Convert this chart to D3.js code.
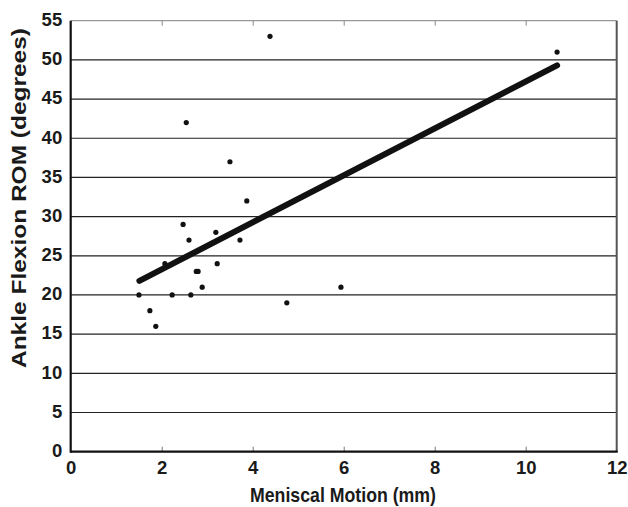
<!DOCTYPE html>
<html>
  <head>
    <title>Meniscal Motion vs Ankle Flexion ROM</title>
    <style>
      body {
        margin: 0;
        padding: 0;
        overflow: hidden;
        background: #fff;
      }
      svg {
        display: block;
      }
      text {
        font-family: "Liberation Sans", Arial, Helvetica, sans-serif;
        font-weight: bold;
        fill: #1a1a1a;
      }
    </style>
    <script src="https://cdn.jsdelivr.net/npm/d3@7/dist/d3.min.js"></script>
  </head>
  <body>
    <svg></svg>
    <script>
      // Datos
      const motionMm = [1.50, 1.74, 1.87, 2.07, 2.23, 2.47, 2.54, 2.60, 2.64, 2.76, 2.80,
                        2.89, 3.19, 3.22, 3.50, 3.72, 3.87, 4.38, 4.75, 5.94, 10.69];
      const romDeg = [20, 18, 16, 24, 20, 29, 42, 27, 20, 23, 23,
                      21, 28, 24, 37, 27, 32, 53, 19, 21, 51];
      // Recta de regresión (extremos)
      const fitX = [1.51, 10.69];
      const fitY = [21.8, 49.3];
      const xTicks = [0, 2, 4, 6, 8, 10, 12];
      const yTicks = [0, 5, 10, 15, 20, 25, 30, 35, 40, 45, 50, 55];

      const width = 628;
      const height = 507;
      const plot = {left: 70.7, right: 616.7, top: 20.7, bottom: 451.7};

      const svg = d3.select('svg')
        .attr('width', width)
        .attr('height', height);

      const x = d3.scaleLinear().domain([0, 12]).range([plot.left, plot.right]);
      const y = d3.scaleLinear().domain([0, 55]).range([plot.bottom, plot.top]);

      // Líneas horizontales de la cuadrícula
      svg.append('g')
        .selectAll('line')
        .data(yTicks.filter(d => d > 0 && d < 55))
        .enter()
        .append('line')
        .attr('x1', plot.left)
        .attr('x2', plot.right)
        .attr('y1', d => y(d))
        .attr('y2', d => y(d))
        .attr('stroke', '#222')
        .attr('stroke-width', 1.2);

      // Borde superior y derecho
      svg.append('line')
        .attr('x1', plot.left).attr('x2', plot.right)
        .attr('y1', plot.top).attr('y2', plot.top)
        .attr('stroke', '#999').attr('stroke-width', 1.2);
      svg.append('line')
        .attr('x1', plot.right).attr('x2', plot.right)
        .attr('y1', plot.top).attr('y2', plot.bottom)
        .attr('stroke', '#555').attr('stroke-width', 2);

      // Marcas superiores hacia dentro
      svg.append('g')
        .attr('transform', `translate(0,${plot.top})`)
        .call(d3.axisTop(x).tickValues(xTicks.slice(1, -1)).tickSize(-5).tickFormat(''))
        .call(g => g.select('.domain').remove())
        .call(g => g.selectAll('.tick line').attr('stroke', '#888'));

      // Eje X
      const xAxis = svg.append('g')
        .attr('transform', `translate(0,${plot.bottom})`)
        .call(d3.axisBottom(x).tickValues(xTicks).tickSize(0).tickPadding(0).tickFormat(d3.format('d')));
      xAxis.select('.domain').remove();
      xAxis.selectAll('.tick text')
        .attr('y', 22)
        .attr('dy', null)
        .style('font-size', '18.5px');
      svg.append('g')
        .attr('transform', `translate(0,${plot.bottom})`)
        .call(d3.axisBottom(x).tickValues(xTicks.slice(1, -1)).tickSize(-5).tickFormat(''))
        .call(g => g.select('.domain').remove())
        .call(g => g.selectAll('.tick line').attr('stroke', '#777'));

      // Eje Y
      const yAxis = svg.append('g')
        .attr('transform', `translate(${plot.left},0)`)
        .call(d3.axisLeft(y).tickValues(yTicks).tickSize(0).tickPadding(0).tickFormat(d3.format('d')));
      yAxis.select('.domain').remove();
      yAxis.selectAll('.tick text')
        .attr('x', -8.5)
        .attr('dy', null)
        .attr('y', 4.8)
        .style('font-size', '18.5px');

      // Ejes principales
      svg.append('line')
        .attr('x1', plot.left).attr('x2', plot.right + 1)
        .attr('y1', plot.bottom).attr('y2', plot.bottom)
        .attr('stroke', '#111').attr('stroke-width', 2.2);
      svg.append('line')
        .attr('x1', plot.left).attr('x2', plot.left)
        .attr('y1', plot.top).attr('y2', plot.bottom + 1)
        .attr('stroke', '#111').attr('stroke-width', 2.2);

      // Recta de regresión
      svg.append('line')
        .attr('x1', x(fitX[0])).attr('y1', y(fitY[0]))
        .attr('x2', x(fitX[1])).attr('y2', y(fitY[1]))
        .attr('stroke', '#111')
        .attr('stroke-width', 6)
        .attr('stroke-linecap', 'round');

      // Puntos
      svg.append('g')
        .selectAll('circle')
        .data(motionMm.map((m, i) => ({m, r: romDeg[i]})))
        .enter()
        .append('circle')
        .attr('cx', d => x(d.m))
        .attr('cy', d => y(d.r))
        .attr('r', 2.6)
        .attr('fill', '#111');

      // Títulos de los ejes
      svg.append('text')
        .attr('x', 343)
        .attr('y', 502)
        .attr('text-anchor', 'middle')
        .attr('textLength', 186)
        .attr('lengthAdjust', 'spacingAndGlyphs')
        .style('font-size', '20.5px')
        .text('Meniscal Motion (mm)');

      svg.append('text')
        .attr('transform', 'translate(26,198) rotate(-90)')
        .attr('text-anchor', 'middle')
        .attr('textLength', 340)
        .attr('lengthAdjust', 'spacingAndGlyphs')
        .style('font-size', '20px')
        .text('Ankle Flexion ROM (degrees)');
    </script>
  </body>
</html>
